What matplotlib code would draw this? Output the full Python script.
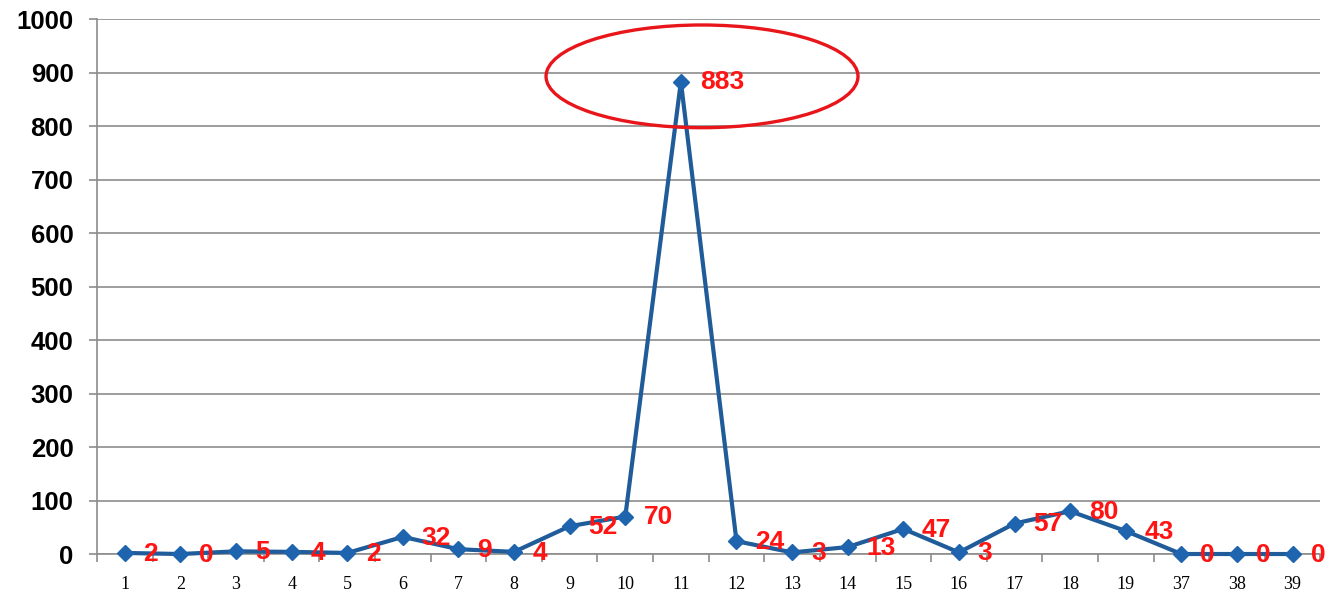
import matplotlib
matplotlib.use("Agg")
import matplotlib.pyplot as plt
from matplotlib.patches import Ellipse
import numpy as np

categories = ["1", "2", "3", "4", "5", "6", "7", "8", "9", "10", "11",
              "12", "13", "14", "15", "16", "17", "18", "19", "37", "38", "39"]
values = [2, 0, 5, 4, 2, 32, 9, 4, 52, 70, 883, 24, 3, 13, 47, 3, 57, 80, 43, 0, 0, 0]
y_ticks = [0, 100, 200, 300, 400, 500, 600, 700, 800, 900, 1000]

fig = plt.figure(figsize=(13.29, 5.97), dpi=100)
ax = fig.add_axes([0.073, 0.072, 0.9205, 0.896])

x = np.arange(len(categories))
ax.plot(x, values, color="#1F5C99", lw=3.0, marker="D", markersize=8.5,
        markerfacecolor="#1F64AE", markeredgecolor="#1F64AE", zorder=3, clip_on=False)

for xi, v in zip(x, values):
    ax.annotate(str(v), (xi, v), xytext=(13.5, -0.5), textcoords="offset points",
                ha="left", va="center", color="#FF1414", fontsize=19,
                fontweight="bold", family="Liberation Sans", zorder=4,
                annotation_clip=False)

ax.set_xlim(-0.5, len(categories) - 0.5)
ax.set_ylim(0, 1000)
ax.set_yticks(y_ticks)
ax.set_yticklabels([str(t) for t in y_ticks], fontsize=18.5, fontweight="bold",
                   family="Liberation Sans")
ax.yaxis.grid(True, color="#8C8C8C", lw=1.2)
ax.set_axisbelow(True)

ax.set_xticks(np.arange(-0.5, len(categories), 1.0))
ax.set_xticklabels([])
ax.set_xticks(x, minor=True)
ax.set_xticklabels(categories, minor=True, fontsize=13, family="Liberation Serif")
ax.tick_params(axis="x", which="major", direction="out", length=6, color="#8C8C8C", width=1.2)
ax.tick_params(axis="x", which="minor", length=0, pad=16)
ax.tick_params(axis="y", direction="out", length=6, color="#8C8C8C", width=1.2, pad=11)

for s in ["top", "right"]:
    ax.spines[s].set_visible(False)
for s in ["left", "bottom"]:
    ax.spines[s].set_color("#8C8C8C")
    ax.spines[s].set_linewidth(1.2)

ell = Ellipse((10.38, 893), width=5.61, height=192, fill=False,
              edgecolor="#E8161B", lw=2.4, zorder=5, clip_on=False)
ax.add_patch(ell)

fig.savefig("out.png", dpi=100, facecolor="white")
